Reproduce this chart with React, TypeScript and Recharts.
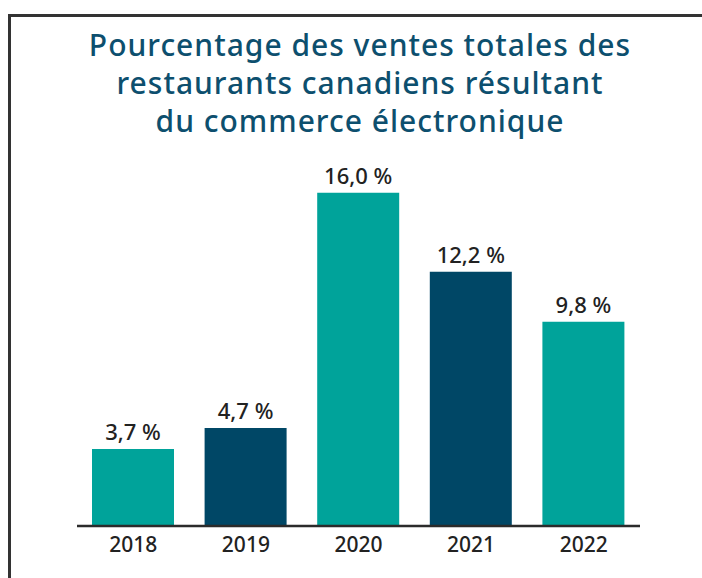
import React from 'react';
import { BarChart, Bar, XAxis, YAxis, Cell, LabelList } from 'recharts';

const years = ['2018', '2019', '2020', '2021', '2022'];
const shares = [3.7, 4.7, 16.0, 12.2, 9.8];
const titleLines = [
  'Pourcentage des ventes totales des',
  'restaurants canadiens résultant',
  'du commerce électronique',
];

const TEAL = '#00A39A';
const NAVY = '#004766';
const FONT = '"Noto Sans", sans-serif';

const data = years.map((year, i) => ({ year, share: shares[i] }));

const fmt = (v: any) => Number(v).toFixed(1).replace('.', ',') + ' %';

export default function App() {
  return (
    <div style={{ position: 'absolute', left: 0, top: 0, width: 702, height: 578, background: '#fff', overflow: 'hidden', fontFamily: FONT }}>
      <div style={{ position: 'absolute', left: 8, top: 14, width: 720, height: 600, borderTop: '3px solid #333', borderLeft: '3px solid #333' }} />
      <div style={{ position: 'absolute', left: 0, top: 26, width: 720, textAlign: 'center', color: '#0D4F6E', fontSize: 30, fontWeight: 500, letterSpacing: 1, lineHeight: '38px' }}>
        {titleLines.map(l => <div key={l}>{l}</div>)}
      </div>
      <div style={{ position: 'absolute', left: 0, top: 0 }}>
        <BarChart width={702} height={578} data={data} margin={{ top: 151, right: 62, left: 77, bottom: 12 }}>
          <YAxis hide domain={[0, 18]} />
          <XAxis
            dataKey="year"
            height={40}
            tickLine={false}
            axisLine={{ stroke: '#2b2b2b', strokeWidth: 2.5 }}
            tick={{ fill: '#222', fontSize: 21, fontWeight: 500, fontFamily: FONT }}
            tickMargin={5}
          />
          <Bar dataKey="share" barSize={82} isAnimationActive={false}>
            {data.map((d, i) => (
              <Cell key={d.year} fill={i % 2 === 0 ? TEAL : NAVY} />
            ))}
            <LabelList dataKey="share" position="top" offset={9} formatter={fmt} fill="#222" fontSize={22} fontWeight={500} fontFamily={FONT} />
          </Bar>
        </BarChart>
      </div>
    </div>
  );
}
